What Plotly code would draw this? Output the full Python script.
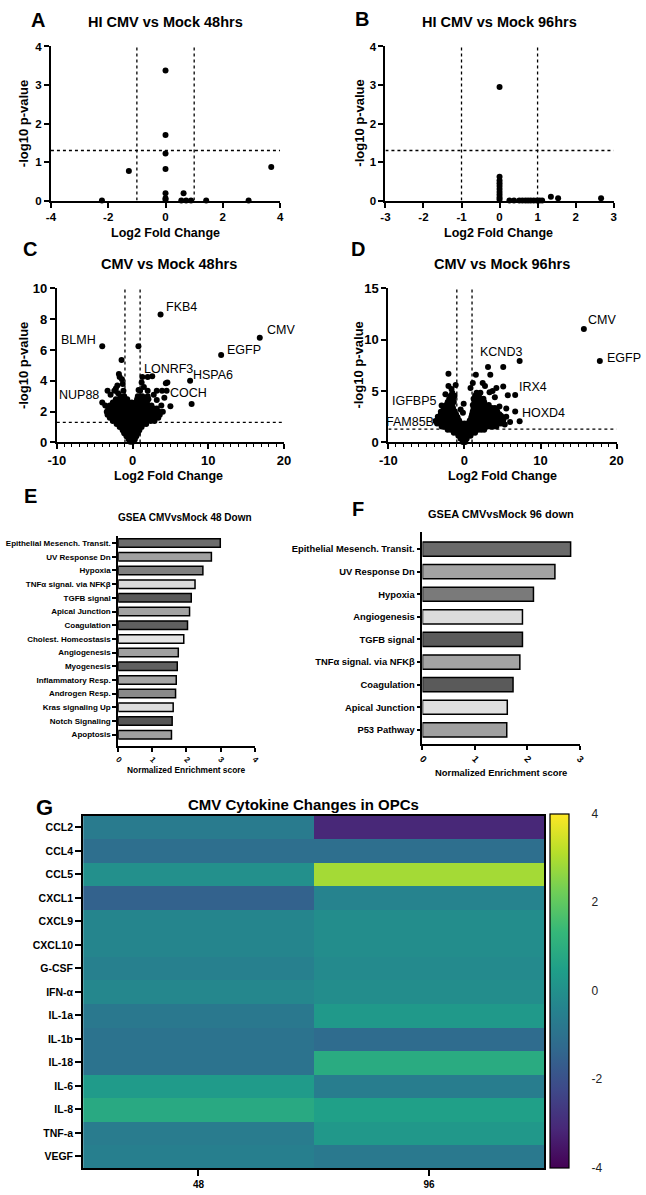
import plotly.graph_objects as go

W, H = 646, 1195
FONT = "Liberation Sans, Arial, sans-serif"

# ---------------- DATA ----------------
# Panel A: HI CMV vs Mock 48hrs
a_x = [0, 0, 0, 0, 0, 0, 0, -1.28, 3.69, -2.22, 0.63, 0.55, 0.72, 0.89, 1.42, 2.9]
a_y = [3.38, 1.70, 1.22, 0.82, 0.19, 0.06, 0.02, 0.77, 0.87, 0.0, 0.19, 0.0, 0.0, 0.0, 0.0, 0.0]
a_xticks = [-4, -2, 0, 2, 4]
a_yticks = [0, 1, 2, 3, 4]

# Panel B: HI CMV vs Mock 96hrs
b_x = [0, 0, 0, 0, 0, 0, 0, 0, 0, 0,
       0.26, 0.38, 0.52, 0.60, 0.68, 0.75, 0.82, 0.90, 0.98, 1.05, 1.12,
       1.35, 1.54, 2.67]
b_y = [2.95, 0.62, 0.52, 0.45, 0.38, 0.30, 0.22, 0.15, 0.08, 0.03,
       0, 0, 0, 0, 0, 0, 0, 0, 0, 0, 0,
       0.10, 0.06, 0.06]
b_xticks = [-3, -2, -1, 0, 1, 2, 3]
b_yticks = [0, 1, 2, 3, 4]

# Panel C: CMV vs Mock 48hrs (dense gene cloud, rows of -log10 p : log2FC values)
c_cloud = [
    (0.05, [-0.3, 0.0]),
    (0.2, [-0.5, -0.1, 0.3]),
    (0.4, [-0.8, -0.3, 0.1, 0.5]),
    (0.6, [-1.1, -0.6, -0.1, 0.4, 0.7]),
    (0.8, [-1.3, -0.8, -0.3, 0.2, 0.6, 0.9]),
    (1.0, [-1.7, -1.2, -0.7, -0.2, 0.3, 0.8, 1.2]),
    (1.2, [-2.1, -1.6, -1.1, -0.6, -0.1, 0.4, 0.9, 1.4, 1.8]),
    (1.4, [-2.6, -2.1, -1.6, -1.1, -0.6, -0.1, 0.4, 0.9, 1.4, 1.9, 2.4, 2.9]),
    (1.6, [-3.0, -2.5, -2.0, -1.5, -1.0, -0.5, 0.0, 0.5, 1.0, 1.5, 2.0, 2.5, 3.0, 3.4]),
    (1.8, [-3.3, -2.8, -2.3, -1.8, -1.3, -0.8, -0.3, 0.2, 0.7, 1.2, 1.7, 2.2, 2.7, 3.2, 3.6]),
    (2.0, [-3.4, -2.9, -2.4, -1.9, -1.4, -0.9, -0.4, 0.1, 0.6, 1.1, 1.6, 2.1, 2.6, 3.1, 3.5]),
    (2.2, [-3.2, -2.7, -2.2, -1.7, -1.2, -0.7, -0.2, 0.3, 0.8, 1.3, 1.8, 2.3, 2.8, 3.2]),
    (2.4, [-3.0, -2.5, -2.0, -1.5, -1.0, -0.5, 0.0, 0.5, 1.0, 1.5, 2.0, 2.5]),
    (2.6, [-2.6, -2.1, -1.6, -1.1, -0.6, -0.1, 0.4, 0.9, 1.4, 1.9]),
    (2.8, [-2.2, -1.7, -1.2, -0.7, 0.6, 1.1, 1.6, 2.1]),
    (3.0, [-1.6, -1.1, 0.7, 1.3, 2.0]),
]
c_out_x = [-3.3, -2.4, -2.9, -1.9, -1.2, -2.2, -1.8, -1.7, -1.4, -1.3, -1.45, -3.05, -3.6, -2.0,
           1.0, 1.5, 2.0, 3.2, 3.9, 4.5, 2.0, 2.6, 4.4, 4.6, 3.2, 5.0, 4.2, 3.8, 4.0, 2.8, 1.2, 0.8, 0.78]
c_out_y = [3.35, 3.35, 3.1, 3.2, 3.35, 3.5, 4.45, 4.25, 4.1, 3.8, 5.35, 2.17, 2.4, 3.7,
           3.35, 3.6, 3.35, 3.35, 3.35, 3.35, 4.25, 4.3, 3.85, 3.9, 2.75, 2.35, 2.9, 2.4, 2.0, 3.1, 3.9, 3.4, 6.25]
c_lab = ["FKB4", "CMV", "EGFP", "BLMH", "HSPA6", "COCH", "NUP88", "LONRF3"]
c_lab_x = [3.7, 16.8, 11.7, -4.0, 7.6, 7.8, -4.0, 1.3]
c_lab_y = [8.3, 6.8, 5.67, 6.25, 4.0, 2.5, 2.6, 4.25]
c_xticks = [-10, 0, 10, 20]
c_yticks = [0, 2, 4, 6, 8, 10]

# Panel D: CMV vs Mock 96hrs
d_cloud = [
    (0.05, [-0.2, 0.1]),
    (0.35, [-0.5, -0.1, 0.3]),
    (0.65, [-0.8, -0.4, 0.0, 0.4, 0.8]),
    (0.95, [-1.4, -1.0, -0.6, -0.2, 0.2, 0.6, 1.0, 1.4]),
    (1.25, [-2.2, -1.8, -1.4, -1.0, -0.6, -0.2, 0.2, 0.6, 1.0, 1.4, 1.8, 2.2, 2.6]),
    (1.55, [-3.0, -2.6, -2.2, -1.8, -1.4, -1.0, -0.6, -0.2, 0.2, 0.6, 1.0, 1.4, 1.8, 2.2, 2.6, 3.0, 3.4, 3.8, 4.2]),
    (1.85, [-3.6, -3.2, -2.8, -2.4, -2.0, -1.6, -1.2, -0.8, -0.4, 0.0, 0.4, 0.8, 1.2, 1.6, 2.0, 2.4, 2.8, 3.2, 3.6, 4.0, 4.4, 4.8]),
    (2.15, [-3.5, -3.1, -2.7, -2.3, -1.9, -1.5, -1.1, -0.7, 0.7, 1.1, 1.5, 1.9, 2.3, 2.7, 3.1, 3.5, 3.9, 4.3, 4.7, 5.1]),
    (2.45, [-3.3, -2.9, -2.5, -2.1, -1.7, -1.3, -0.9, 0.9, 1.3, 1.7, 2.1, 2.5, 2.9, 3.3, 3.7, 4.1, 4.5, 5.0]),
    (2.75, [-3.1, -2.7, -2.3, -1.9, -1.5, -1.1, 1.0, 1.4, 1.8, 2.2, 2.6, 3.0, 3.4, 3.8, 4.2, 4.6]),
    (3.05, [-2.9, -2.5, -2.1, -1.7, -1.3, 1.1, 1.5, 1.9, 2.3, 2.7, 3.1, 3.5, 3.9, 4.3]),
    (3.35, [-2.7, -2.3, -1.9, -1.5, 1.2, 1.6, 2.0, 2.4, 2.8, 3.2, 3.6, 4.0]),
    (3.65, [-2.4, -2.0, -1.6, 1.1, 1.5, 1.9, 2.3, 2.7, 3.2]),
    (3.95, [-2.2, -1.8, -1.4, 1.3, 1.7, 2.1, 2.6]),
    (4.25, [-2.0, -1.5, 1.2, 1.6, 2.0, 2.5]),
    (4.55, [-1.8, -1.3, 1.4, 1.9]),
    (4.85, [-1.6, 1.6, 2.1]),
]
d_out_x = [-2.1, -2.1, -1.15, -1.7, -0.1, -0.2, -2.5, -3.5, -0.5, 0.8, 1.5, 3.4, 3.1, 5.1, 5.1, 5.7,
           4.2, 3.3, 2.7, 4.0, 4.6, 5.5, 5.3, 4.8, 3.7, 1.1, 2.4, 5.5, 6.0, -3.8, -3.1, 7.26]
d_out_y = [6.7, 5.5, 5.6, 5.2, 3.76, 2.9, 4.7, 2.5, 3.2, 5.3, 6.6, 6.6, 7.35, 7.35, 5.45, 4.6,
           5.3, 4.9, 5.5, 4.4, 3.5, 3.3, 1.74, 2.6, 5.0, 5.8, 5.8, 2.5, 2.0, 2.1, 3.0, 2.06]
d_lab = ["CMV", "EGFP", "KCND3", "IRX4", "HOXD4", "IGFBP5", "FAM85B"]
d_lab_x = [15.7, 17.8, 7.26, 6.67, 6.67, -3.0, -3.3]
d_lab_y = [11.06, 7.94, 7.94, 4.63, 3.02, 3.6, 1.9]
d_xticks = [-10, 0, 10, 20]
d_yticks = [0, 5, 10, 15]

# Panel E: GSEA CMVvsMock 48 Down
e_terms = ["Epithelial Mesench. Transit.", "UV Response Dn", "Hypoxia", "TNFα signal. via NFKβ",
           "TGFB signal", "Apical Junction", "Coagulation", "Cholest. Homeostasis", "Angiogenesis",
           "Myogenesis", "Inflammatory Resp.", "Androgen Resp.", "Kras signaling Up",
           "Notch Signaling", "Apoptosis"]
e_nes = [2.99, 2.73, 2.48, 2.25, 2.14, 2.09, 2.03, 1.92, 1.76, 1.73, 1.70, 1.68, 1.61, 1.58, 1.56]
e_colors = ["#6b6b6b", "#a0a0a0", "#808080", "#dcdcdc", "#595959", "#a3a3a3", "#5f5f5f", "#e4e4e4",
            "#a0a0a0", "#606060", "#a5a5a5", "#8a8a8a", "#dddddd", "#555555", "#a0a0a0"]

# Panel F: GSEA CMVvsMock 96 down
f_terms = ["Epithelial Mesench. Transit.", "UV Response Dn", "Hypoxia", "Angiogenesis", "TGFB signal",
           "TNFα signal. via NFKβ", "Coagulation", "Apical Junction", "P53 Pathway"]
f_nes = [2.83, 2.53, 2.12, 1.91, 1.91, 1.86, 1.73, 1.62, 1.61]
f_colors = ["#6a6a6a", "#a3a3a3", "#7a7a7a", "#dcdcdc", "#5a5a5a", "#a3a3a3", "#5a5a5a", "#e0e0e0", "#a0a0a0"]

# Panel G: cytokine heatmap
cytokines = ["CCL2", "CCL4", "CCL5", "CXCL1", "CXCL9", "CXCL10", "G-CSF", "IFN-α", "IL-1a",
             "IL-1b", "IL-18", "IL-6", "IL-8", "TNF-a", "VEGF"]
hm_times = ["48", "96"]
hm_48 = [-0.7, -1.1, 0.0, -1.5, -0.35, -0.35, -0.5, -0.3, -0.8, -0.95, -0.95, 0.35, 0.85, -0.65, -0.55]
hm_96 = [-3.1, -1.1, 2.9, -0.4, -0.1, -0.1, -0.2, -0.1, 0.3, -1.2, 0.9, -0.6, 0.5, 0.25, -0.75]
cb_ticks = [-4, -2, 0, 2, 4]


# ---------------- helpers ----------------
def fx(px):
    return px / W


def fy(py):
    return 1 - py / H


def flatten(rows):
    xs, ys = [], []
    for y, row in rows:
        for x in row:
            xs.append(x)
            ys.append(y)
    return xs, ys


def labels(vals):
    return [str(v) for v in vals]  # plain hyphen minus, as in the original


fig = go.Figure()
ann = []
shapes = []


def text(px, py, s, size, bold=True, angle=0, xanchor="center", yanchor="middle"):
    f = dict(family=FONT, size=size, color="black")
    if bold:
        f["weight"] = "bold"
    ann.append(dict(x=fx(px), y=fy(py), xref="paper", yref="paper", text=s, showarrow=False,
                    font=f, textangle=angle, xanchor=xanchor, yanchor=yanchor))


def axis_common(size):
    return dict(showline=True, linecolor="black", linewidth=2, ticks="outside", ticklen=5,
                tickwidth=2, tickcolor="black", showgrid=False, zeroline=False,
                tickfont=dict(family=FONT, size=size, color="black", weight="bold"))


def dotted(n, x0, y0, x1, y1):
    xr = "x" if n == 1 else f"x{n}"
    yr = "y" if n == 1 else f"y{n}"
    shapes.append(dict(type="line", xref=xr, yref=yr, x0=x0, y0=y0, x1=x1, y1=y1,
                       line=dict(color="black", width=1.3, dash="dot")))


layout_axes = {}


def volcano(n, box, xticks, yticks, tsize, minor=False):
    x0, x1, y0, y1 = box
    xr = [xticks[0], xticks[-1]]
    yr = [yticks[0], yticks[-1]]
    xa = axis_common(tsize)
    xa.update(domain=[fx(x0), fx(x1)], range=xr, tickmode="array", tickvals=xticks,
              ticktext=labels(xticks), anchor="y" if n == 1 else f"y{n}")
    if minor:
        xa["minor"] = dict(dtick=1, tick0=0, ticks="outside", ticklen=3, tickwidth=1.2,
                           tickcolor="black")
    ya = axis_common(tsize)
    ya.update(domain=[fy(y1), fy(y0)], range=yr, tickmode="array", tickvals=yticks,
              ticktext=labels(yticks), anchor="x" if n == 1 else f"x{n}")
    layout_axes["xaxis" if n == 1 else f"xaxis{n}"] = xa
    layout_axes["yaxis" if n == 1 else f"yaxis{n}"] = ya
    dotted(n, -1, yr[0], -1, yr[1])
    dotted(n, 1, yr[0], 1, yr[1])
    dotted(n, xr[0], 1.3, xr[1], 1.3)


def pts(n, xs, ys, size=6):
    fig.add_trace(go.Scatter(x=xs, y=ys, mode="markers", cliponaxis=False,
                             marker=dict(color="black", size=size, line=dict(width=0)),
                             xaxis="x" if n == 1 else f"x{n}", yaxis="y" if n == 1 else f"y{n}",
                             showlegend=False, hoverinfo="skip"))


# ---------------- Panel A ----------------
volcano(1, (43, 278, 40, 196), a_xticks, a_yticks, 11.5)
pts(1, a_x, a_y)
text(30, 13, "A", 20)
text(160, 15, "HI CMV vs Mock 48hrs", 14.5)
text(160, 229, "Log2 Fold Change", 12.5)
text(15, 118, "-log10 p-value", 13, angle=-90)

# ---------------- Panel B ----------------
volcano(2, (386, 620, 40, 196), b_xticks, b_yticks, 11.5)
pts(2, b_x, b_y)
text(362, 12, "B", 20)
text(503, 15, "HI CMV vs Mock 96hrs", 14.5)
text(502, 229, "Log2 Fold Change", 12.5)
text(359, 118, "-log10 p-value", 13, angle=-90)

# ---------------- Panel C ----------------
volcano(3, (49, 282, 285, 441), c_xticks, c_yticks, 13, minor=True)
cx, cy = flatten(c_cloud)
pts(3, cx + c_out_x + c_lab_x, cy + c_out_y + c_lab_y)
text(22, 245, "C", 20)
text(164, 260, "CMV vs Mock 48hrs", 14.5)
text(164, 475, "Log2 Fold Change", 12.5)
text(15, 363, "-log10 p-value", 13, angle=-90)
c_lab_pos = {  # xanchor, xshift, yshift (pixels)
    "FKB4": ("left", 3, 8), "CMV": ("left", 5, 8), "EGFP": ("left", 4, 5),
    "BLMH": ("right", -4, 6), "HSPA6": ("left", 1, 6), "COCH": ("center", -3, 11),
    "NUP88": ("right", -1, 7), "LONRF3": ("left", 0, 8)}
for name, x, y in zip(c_lab, c_lab_x, c_lab_y):
    xa_, xs_, ys_ = c_lab_pos[name]
    ann.append(dict(x=x, y=y, xref="x3", yref="y3", text=name, showarrow=False, xanchor=xa_,
                    yanchor="middle", xshift=xs_, yshift=ys_,
                    font=dict(family=FONT, size=12.5, color="black")))

# ---------------- Panel D ----------------
volcano(4, (389, 623, 285, 441), d_xticks, d_yticks, 13, minor=True)
dx, dy = flatten(d_cloud)
pts(4, dx + d_out_x + d_lab_x, dy + d_out_y + d_lab_y)
text(358, 245, "D", 20)
text(506, 260, "CMV vs Mock 96hrs", 14.5)
text(506, 475, "Log2 Fold Change", 12.5)
text(358, 363, "-log10 p-value", 13, angle=-90)
d_lab_pos = {
    "CMV": ("left", 2, 9), "EGFP": ("left", 5, 3), "KCND3": ("right", 4, 9),
    "IRX4": ("left", 2, 8), "HOXD4": ("left", 5, -2), "IGFBP5": ("right", -3, 4),
    "FAM85B": ("right", -3, 1)}
for name, x, y in zip(d_lab, d_lab_x, d_lab_y):
    xa_, xs_, ys_ = d_lab_pos[name]
    ann.append(dict(x=x, y=y, xref="x4", yref="y4", text=name, showarrow=False, xanchor=xa_,
                    yanchor="middle", xshift=xs_, yshift=ys_,
                    font=dict(family=FONT, size=12.5, color="black")))


# ---------------- Panels E & F (GSEA bars) ----------------
def gsea(n, box, terms, vals, colors, xmax, yrange, lsize, bw):
    x0, x1, y0, y1 = box
    fig.add_trace(go.Bar(x=vals, y=terms, orientation="h", width=bw,
                         marker=dict(color=colors, line=dict(color="black", width=1.5)),
                         xaxis=f"x{n}", yaxis=f"y{n}", showlegend=False, hoverinfo="skip"))
    xa = dict(domain=[fx(x0), fx(x1)], range=[0, xmax], dtick=1, tick0=0, anchor=f"y{n}",
              showline=True, linecolor="black", linewidth=1.8, ticks="outside", ticklen=4,
              tickwidth=1.5, tickcolor="black", showgrid=False, zeroline=False, tickangle=45,
              tickfont=dict(family=FONT, size=lsize, color="black", weight="bold"))
    ya = dict(domain=[fy(y1), fy(y0)], range=yrange, type="category", categoryorder="array",
              categoryarray=terms, anchor=f"x{n}", showline=True, linecolor="black",
              linewidth=1.8, ticks="outside", ticklen=4, tickwidth=1.5, tickcolor="black",
              showgrid=False, zeroline=False,
              tickfont=dict(family=FONT, size=lsize, color="black", weight="bold"))
    layout_axes[f"xaxis{n}"] = xa
    layout_axes[f"yaxis{n}"] = ya


gsea(5, (112, 252, 536, 748), e_terms, e_nes, e_colors, 4, [14.8, -0.5], 8, 0.62)
text(22, 495, "E", 20)
text(180, 517, "GSEA CMVvsMock 48 Down", 10)
text(182, 773, "Normalized Enrichment score", 8.4)

gsea(6, (424, 585, 532, 746), f_terms, f_nes, f_colors, 3, [8.61, -0.74], 9.4, 0.63)
text(358, 508, "F", 20)
text(505, 513, "GSEA CMVvsMock 96 down", 11)
text(504, 775, "Normalized Enrichment score", 9.4)

# ---------------- Panel G (heatmap) ----------------
z = [[a, b] for a, b in zip(hm_48, hm_96)]
fig.add_trace(go.Heatmap(
    z=z, x=hm_times, y=cytokines, colorscale="Viridis", zmin=-4, zmax=4,
    xaxis="x7", yaxis="y7", hoverinfo="skip",
    colorbar=dict(x=fx(555), xanchor="left", xpad=0, y=fy(817), yanchor="top", ypad=0,
                  len=(1176 - 817) / H, lenmode="fraction", thickness=19, thicknessmode="pixels",
                  outlinewidth=1.2, outlinecolor="black", tickmode="array", tickvals=cb_ticks,
                  ticktext=labels(cb_ticks),
                  ticks="outside", ticklen=20, tickcolor="rgba(0,0,0,0)",
                  tickfont=dict(family=FONT, size=12, color="#222"))))
layout_axes["xaxis7"] = dict(domain=[fx(76), fx(549)], anchor="y7", type="category",
                             range=[-0.5, 1.5], showline=True, mirror=True, linecolor="black",
                             linewidth=2, ticks="outside", ticklen=6, tickwidth=2, tickcolor="black",
                             showgrid=False, zeroline=False,
                             tickfont=dict(family=FONT, size=10, color="black", weight="bold"))
layout_axes["yaxis7"] = dict(domain=[fy(1176), fy(819)], anchor="x7", type="category",
                             categoryorder="array", categoryarray=cytokines,
                             range=[14.5, -0.5], showline=True, mirror=True, linecolor="black",
                             linewidth=2, ticks="outside", ticklen=6, tickwidth=2, tickcolor="black",
                             showgrid=False, zeroline=False,
                             tickfont=dict(family=FONT, size=10.5, color="black", weight="bold"))
text(36, 811, "G", 22)
text(302, 808, "CMV Cytokine Changes in OPCs", 15)

fig.update_layout(
    width=W, height=H, autosize=False, margin=dict(l=0, r=0, t=0, b=0, pad=0),
    paper_bgcolor="white", plot_bgcolor="white", showlegend=False,
    font=dict(family=FONT, color="black"), annotations=ann, shapes=shapes, bargap=0.3,
    **layout_axes)

fig.write_html("out.html", config={"displayModeBar": False},
               post_script="document.body.style.margin='0';")
